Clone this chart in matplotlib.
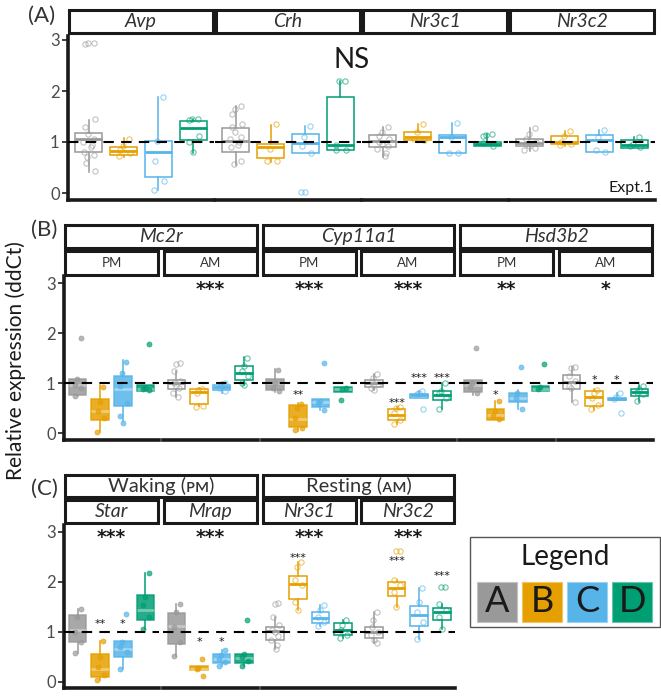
import numpy as np
import matplotlib
matplotlib.use("Agg")
import matplotlib.pyplot as plt
from matplotlib.patches import Rectangle
from matplotlib.colors import to_rgb

plt.rcParams['font.family'] = ['Lato', 'DejaVu Sans']

W, H = 661, 698

groups = ["A", "B", "C", "D"]
colors = ["#999999", "#E69F00", "#56B4E9", "#009E73"]

# ---- panel A (Expt.1) ----
A_genes = ["Avp", "Crh", "Nr3c1", "Nr3c2"]
A_lo = [[0.42, 0.70, 0.05, 0.79], [0.54, 0.61, 0.79, 0.84], [0.71, 1.03, 0.78, 0.93], [0.83, 0.93, 0.81, 0.89]]
A_q1 = [[0.80, 0.75, 0.32, 1.03], [0.81, 0.68, 0.79, 0.84], [0.91, 1.03, 0.78, 0.93], [0.93, 0.97, 0.81, 0.89]]
A_med = [[1.05, 0.83, 0.81, 1.27], [1.02, 0.91, 0.99, 0.94], [1.01, 1.09, 1.09, 0.97], [0.99, 1.00, 1.04, 0.94]]
A_q3 = [[1.18, 0.91, 1.01, 1.42], [1.28, 0.96, 1.16, 1.88], [1.13, 1.20, 1.14, 1.00], [1.05, 1.12, 1.14, 1.03]]
A_hi = [[1.44, 1.08, 1.88, 1.46], [1.71, 1.33, 1.31, 2.20], [1.29, 1.35, 1.37, 1.15], [1.27, 1.21, 1.24, 1.10]]
A_pts = [
    [[2.95, 2.95, 2.93, 1.45, 1.30, 1.15, 1.05, 1.0, 0.95, 0.90, 0.80, 0.75, 0.70, 0.58, 0.44],
     [1.06, 0.92, 0.85, 0.78, 0.72], [1.88, 1.02, 0.63, 0.24, 0.06], [1.46, 1.45, 1.44, 1.12, 1.00, 0.80]],
    [[1.71, 1.65, 1.55, 1.35, 1.30, 1.20, 1.10, 1.05, 1.00, 0.95, 0.90, 0.62, 0.56],
     [1.35, 0.86, 0.63, 0.62], [1.31, 1.10, 0.92, 0.78, 0.02, 0.02], [2.20, 2.20, 0.95, 0.85, 0.84]],
    [[1.30, 1.20, 1.12, 1.05, 1.0, 0.97, 0.92, 0.86, 0.78, 0.72],
     [1.35, 1.20, 1.05, 1.03], [1.37, 1.10, 0.78, 0.78], [1.15, 1.14, 1.12, 0.93, 0.98]],
    [[1.27, 1.15, 1.05, 1.0, 0.96, 0.92, 0.88, 0.84],
     [1.21, 1.12, 1.0, 0.96, 0.94], [1.24, 1.10, 0.84, 0.80], [1.10, 0.97, 0.92, 0.90]],
]

# ---- panel B ----
B_genes = ["Mc2r", "Cyp11a1", "Hsd3b2"]
B_times = ["PM", "AM"]
B_lo = [[0.75, 0.02, 0.24, 0.85], [0.73, 0.54, 0.80, 0.96], [0.83, 0.05, 0.46, 0.83],
        [0.86, 0.18, 0.71, 0.49], [0.76, 0.26, 0.49, 0.84], [0.63, 0.47, 0.66, 0.63]]
B_q1 = [[0.77, 0.27, 0.55, 0.85], [0.89, 0.59, 0.86, 1.07], [0.87, 0.13, 0.53, 0.83],
        [0.93, 0.26, 0.71, 0.66], [0.83, 0.26, 0.63, 0.84], [0.89, 0.54, 0.66, 0.74]]
B_med = [[0.96, 0.45, 0.89, 0.89], [1.00, 0.83, 0.93, 1.21], [1.00, 0.29, 0.63, 0.88],
         [1.00, 0.37, 0.76, 0.77], [0.96, 0.36, 0.71, 0.89], [1.03, 0.73, 0.69, 0.83]]
B_q3 = [[1.09, 0.69, 1.14, 0.96], [1.07, 0.88, 0.97, 1.35], [1.09, 0.56, 0.68, 0.93],
        [1.06, 0.48, 0.79, 0.85], [1.06, 0.49, 0.81, 0.94], [1.17, 0.84, 0.71, 0.89]]
B_hi = [[1.09, 0.96, 1.46, 0.96], [1.25, 0.90, 1.03, 1.53], [1.29, 0.61, 0.68, 0.93],
        [1.19, 0.53, 0.85, 1.00], [1.06, 0.65, 0.86, 0.94], [1.33, 0.89, 0.80, 0.96]]
B_pts = [
    [[1.91, 1.08, 0.97, 0.90, 0.75], [0.92, 0.62, 0.45, 0.30, 0.02],
     [1.43, 1.20, 0.95, 0.60, 0.35, 0.20], [1.79, 0.90, 0.88, 0.86]],
    [[1.40, 1.38, 1.25, 1.05, 1.0, 0.95, 0.90, 0.80, 0.73], [0.88, 0.86, 0.80, 0.55, 0.52],
     [1.0, 0.95, 0.90, 0.85], [1.50, 1.35, 1.25, 1.15, 1.0, 0.96]],
    [[1.27, 1.0, 0.90, 0.85], [0.58, 0.50, 0.30, 0.10, 0.06], [1.40, 0.65, 0.60, 0.46], [0.90, 0.88, 0.66]],
    [[1.19, 1.10, 1.02, 0.98, 0.90, 0.87], [0.53, 0.50, 0.40, 0.26, 0.18],
     [0.85, 0.80, 0.78, 0.49], [1.0, 0.85, 0.80, 0.70, 0.49]],
    [[1.71, 1.0, 0.92, 0.80], [0.65, 0.45, 0.35, 0.28], [1.33, 0.80, 0.70, 0.49], [1.38, 0.92, 0.88]],
    [[1.33, 1.30, 1.15, 1.05, 0.95, 0.90, 0.63], [0.87, 0.80, 0.70, 0.56, 0.48],
     [0.80, 0.72, 0.68, 0.40], [0.95, 0.88, 0.82, 0.78, 0.65]],
]
B_sig = [["", "", "", ""], ["", "", "", ""], ["", "**", "", ""],
         ["", "***", "***", "***"], ["", "*", "", ""], ["", "*", "*", ""]]
B_sig_y = [[0, 0, 0, 0], [0, 0, 0, 0], [0, 0.83, 0, 0],
           [0, 0.67, 1.18, 1.18], [0, 0.83, 0, 0], [0, 1.13, 1.13, 0]]
B_big = ["", "***", "***", "***", "**", "*"]

# ---- panel C ----
C_phase = ["Waking (ᴘᴍ)", "Resting (ᴀᴍ)"]
C_genes = ["Star", "Mrap", "Nr3c1", "Nr3c2"]
C_lo = [[0.59, 0.05, 0.27, 1.07], [0.53, 0.24, 0.32, 0.33], [0.67, 1.45, 1.12, 0.89], [0.79, 1.51, 0.86, 1.06]]
C_q1 = [[0.81, 0.11, 0.51, 1.24], [0.76, 0.24, 0.39, 0.39], [0.84, 1.67, 1.19, 0.94], [0.89, 1.72, 1.12, 1.24]]
C_med = [[1.05, 0.27, 0.67, 1.44], [1.13, 0.27, 0.47, 0.49], [1.02, 1.97, 1.29, 1.05], [1.00, 1.89, 1.34, 1.41]]
C_q3 = [[1.35, 0.57, 0.83, 1.74], [1.39, 0.32, 0.56, 0.56], [1.11, 2.12, 1.41, 1.19], [1.11, 2.01, 1.53, 1.49]]
C_hi = [[1.46, 0.83, 0.83, 2.19], [1.56, 0.32, 0.65, 0.57], [1.31, 2.41, 1.54, 1.24], [1.41, 2.04, 1.89, 1.57]]
C_pts = [
    [[1.46, 1.30, 1.0, 0.80, 0.59], [0.83, 0.50, 0.30, 0.15, 0.05],
     [1.37, 0.80, 0.70, 0.60, 0.27], [2.19, 1.70, 1.55, 1.30, 1.07]],
    [[1.56, 1.40, 1.10, 0.80, 0.53], [0.47, 0.28, 0.26, 0.12],
     [0.65, 0.55, 0.47, 0.40, 0.32], [1.25, 0.57, 0.50, 0.42, 0.33]],
    [[1.58, 1.57, 1.31, 1.15, 1.05, 1.0, 0.92, 0.85, 0.75, 0.67], [2.41, 2.30, 2.05, 1.95, 1.60, 1.45],
     [1.54, 1.45, 1.30, 1.20, 1.12], [1.24, 1.15, 1.05, 0.95, 0.89]],
    [[1.41, 1.25, 1.10, 1.0, 0.95, 0.85, 0.79], [2.62, 2.62, 2.05, 1.95, 1.80, 1.51],
     [1.89, 1.60, 1.40, 1.20, 0.86], [1.90, 1.90, 1.57, 1.45, 1.30, 1.06]],
]
C_sig = [["", "**", "*", ""], ["", "*", "*", ""], ["", "***", "", ""], ["", "***", "", "***"]]
C_sig_y = [[0, 1.24, 1.24, 0], [0, 0.87, 0.87, 0], [0, 2.55, 0, 0], [0, 2.50, 0, 2.20]]
C_big = ["***", "***", "***", "***"]


fig = plt.figure(figsize=(W / 100, H / 100), dpi=100)


def add_ax(x0, x1, y0, y1):
    return fig.add_axes([x0 / W, 1 - y1 / H, (x1 - x0) / W, (y1 - y0) / H])


def lighten(c, f):
    return tuple(np.array(to_rgb(c)) * (1 - f) + f)


def strip(x0, x1, y0, y1, text, italic=True, size=14):
    fig.add_artist(Rectangle((x0 / W, 1 - y1 / H), (x1 - x0) / W, (y1 - y0) / H,
                             transform=fig.transFigure, facecolor="white",
                             edgecolor="#1a1a1a", lw=2.2))
    fig.text((x0 + x1) / 2 / W, 1 - (y0 + y1) / 2 / H, text, ha="center", va="center",
             fontsize=size, style="italic" if italic else "normal", color="#333333")


def facet(ax, lo, q1, med, q3, hi, pts, filled, ylim, first):
    stats = []
    for k in range(4):
        stats.append(dict(whislo=lo[k], q1=q1[k], med=med[k], q3=q3[k], whishi=hi[k], fliers=[]))
    bp = ax.bxp(stats, positions=[1, 2, 3, 4], widths=0.78, patch_artist=True,
                showcaps=False, showfliers=False)
    for k in range(4):
        c = colors[k]
        box = bp["boxes"][k]
        box.set_edgecolor(c)
        box.set_linewidth(1.1)
        if filled:
            box.set_facecolor(c)
            box.set_alpha(0.85)
            bp["medians"][k].set_color(lighten(c, 0.45))
        else:
            box.set_facecolor("none")
            bp["medians"][k].set_color(c)
        bp["medians"][k].set_linewidth(2.0)
        for w in bp["whiskers"][2 * k:2 * k + 2]:
            w.set_color(c)
            w.set_linewidth(1.1)
        y = np.array(pts[k])
        jit = 0.17 * np.sin(2.3 * np.arange(len(y)) + 1.0)
        if filled:
            ax.plot(k + 1 + jit, y, "o", ms=3.6, mfc=c, mec=c, mew=0.6, alpha=0.7, zorder=4)
        else:
            ax.plot(k + 1 + jit, y, "o", ms=3.8, mfc="none", mec=c, mew=0.8, alpha=0.6, zorder=4)
    ax.axhline(1, color="black", lw=1.5, ls=(0, (5, 3.5)), zorder=6)
    ax.set_xlim(0.4, 4.6)
    ax.set_ylim(*ylim)
    ax.set_xticks([])
    for s in ["top", "right"]:
        ax.spines[s].set_visible(False)
    ax.spines["bottom"].set_linewidth(2.6)
    ax.spines["bottom"].set_color("#1a1a1a")
    if first:
        ax.spines["left"].set_linewidth(2.6)
        ax.spines["left"].set_color("#1a1a1a")
        ax.set_yticks([0, 1, 2, 3])
        ax.tick_params(axis="y", length=4, width=1.3, color="#333333",
                       labelsize=12, labelcolor="#4d4d4d", pad=2)
    else:
        ax.spines["left"].set_visible(False)
        ax.set_yticks([])
    ax.patch.set_alpha(0)


def stars(ax, x, y, text, fs, bold=False):
    ax.annotate(text, (x, y), xytext=(0, -0.59 * fs), textcoords="offset points",
                ha="center", va="baseline", fontsize=fs, color="#1a1a1a",
                family="DejaVu Sans", fontweight="bold" if bold else "normal")


# ---- row A ----
ylimA = ((193 - 200) / 51, (193 - 36) / 51)
for i in range(4):
    x0 = 68 + i * 147
    ax = add_ax(x0, x0 + 146, 36, 200)
    facet(ax, A_lo[i], A_q1[i], A_med[i], A_q3[i], A_hi[i], A_pts[i], False, ylimA, i == 0)
    strip(x0 + 1, x0 + 145, 10, 33, A_genes[i])

# ---- row B ----
ylimB = ((433 - 440) / 50, (433 - 276) / 50)
bx = [64 + i * 98.8 for i in range(6)]
for i in range(6):
    ax = add_ax(bx[i], bx[i] + 95, 276, 440)
    facet(ax, B_lo[i], B_q1[i], B_med[i], B_q3[i], B_hi[i], B_pts[i], i % 2 == 0, ylimB, i == 0)
    strip(bx[i] + 1, bx[i] + 94, 251, 275, B_times[i % 2], italic=False, size=9.5)
    if B_big[i]:
        stars(ax, 2.5, 2.98, B_big[i], 13.5, True)
    for k in range(4):
        if B_sig[i][k]:
            stars(ax, k + 1, B_sig_y[i][k], B_sig[i][k], 8)
for g in range(3):
    strip(bx[2 * g] + 1, bx[2 * g + 1] + 94, 225, 248, B_genes[g])

# ---- row C ----
ylimC = ((682 - 688) / 50, (682 - 525) / 50)
for i in range(4):
    ax = add_ax(bx[i], bx[i] + 95, 525, 688)
    facet(ax, C_lo[i], C_q1[i], C_med[i], C_q3[i], C_hi[i], C_pts[i], i < 2, ylimC, i == 0)
    strip(bx[i] + 1, bx[i] + 94, 500, 523, C_genes[i])
    stars(ax, 2.5, 3.0, C_big[i], 13.5, True)
    for k in range(4):
        if C_sig[i][k]:
            stars(ax, k + 1, C_sig_y[i][k], C_sig[i][k], 8)
for g in range(2):
    strip(bx[2 * g] + 1, bx[2 * g + 1] + 94, 475, 497, C_phase[g], italic=False, size=14.5)

# ---- texts ----
fig.text(16 / W, 1 - 361 / H, "Relative expression (ddCt)", rotation=90, ha="center",
         va="center", fontsize=15, color="#1a1a1a")
for lab, (px, py) in zip(["(A)", "(B)", "(C)"], [(42, 16), (44, 230), (44, 489)]):
    fig.text(px / W, 1 - py / H, lab, ha="center", va="center", fontsize=16, color="#333333")
fig.text(352 / W, 1 - 60 / H, "NS", ha="center", va="center", fontsize=20, color="#1a1a1a")
fig.text(653 / W, 1 - 188 / H, "Expt.1", ha="right", va="center", fontsize=11.5, color="#1a1a1a")

# ---- legend ----
fig.add_artist(Rectangle((470 / W, 1 - 627 / H), 190 / W, 90 / H, transform=fig.transFigure,
                         facecolor="white", edgecolor="#555555", lw=1.0))
fig.text(565 / W, 1 - 557 / H, "Legend", ha="center", va="center", fontsize=20, color="#1a1a1a")
for k in range(4):
    lx = 477 + k * 45
    fig.add_artist(Rectangle((lx / W, 1 - 622 / H), 40 / W, 40 / H, transform=fig.transFigure,
                             facecolor=colors[k], edgecolor=lighten(colors[k], 0.4), lw=0.8))
    fig.text((lx + 20) / W, 1 - 602 / H, groups[k], ha="center", va="center",
             fontsize=26, color="#1a1a1a")

fig.savefig("out.png", dpi=100)
